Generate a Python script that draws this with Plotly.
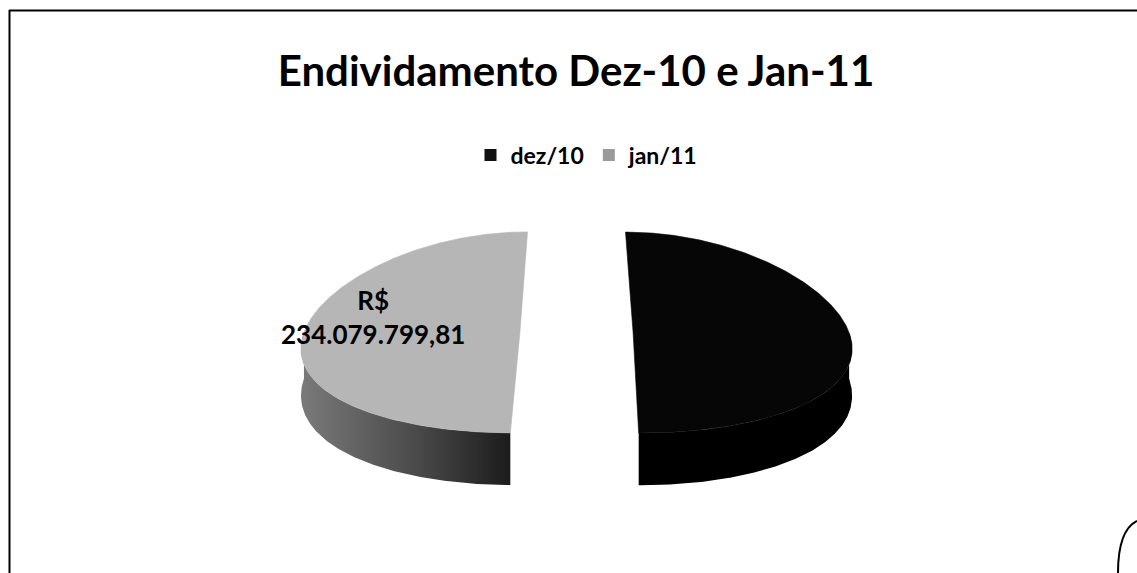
import numpy as np
import plotly.graph_objects as go

# ---- data -------------------------------------------------------------
categories = ["dez/10", "jan/11"]
values = [235300000.00, 234079799.81]
show_label = [False, True]
top_colors = ["#060606", "#b6b6b6"]
side_gradients = [
    [[0.0, "#000000"], [1.0, "#000000"]],
    [[0.0, "#7a7a7a"], [0.55, "#4a4a4a"], [1.0, "#1c1c1c"]],
]
legend_colors = ["#111111", "#9a9a9a"]
title_text = "Endividamento Dez-10 e Jan-11"
currency = "R$"

# ---- canvas / 3-D pie geometry (pixel space) --------------------------
W, H = 1137, 573
CX, CY = 576.5, 332.5      # centre of the disc's top face
RX, RY = 216.0, 100.5      # semi-axes of the top face
DEPTH = 46.0               # thickness of the disc
EXPLODE = 0.262            # slice explosion, as a fraction of radius
PERSP = 0.134              # horizontal perspective widening toward the front
FONT = "Lato"


def project(pu, pv, drop=0.0):
    """Map disc coordinates (unit radius) onto the page."""
    s = 1.0 + PERSP * pv
    return CX + RX * pu * s, CY + RY * pv + drop * s


def brl(v):
    txt = f"{v:,.2f}"
    return txt.replace(",", "#").replace(".", ",").replace("#", ".")


total = float(sum(values))
fracs = [v / total for v in values]
starts = np.concatenate([[0.0], np.cumsum(fracs)[:-1]]) * 2 * np.pi

fig = go.Figure()
annotations = []

for i, (name, frac) in enumerate(zip(categories, fracs)):
    a0 = starts[i]
    a1 = a0 + frac * 2 * np.pi
    am = 0.5 * (a0 + a1)
    ou, ov = EXPLODE * np.sin(am), -EXPLODE * np.cos(am)

    # visible outer wall: the front half of the rim
    v0, v1 = max(a0, np.pi / 2), min(a1, 3 * np.pi / 2)
    if v1 > v0:
        ang = np.linspace(v0, v1, 160)
        pu = ou + np.sin(ang)
        pv = ov - np.cos(ang)
        tx, ty = project(pu, pv)
        bx, by = project(pu, pv, DEPTH)
        xs = np.concatenate([tx, bx[::-1], tx[:1]])
        ys = np.concatenate([ty, by[::-1], ty[:1]])
        fig.add_trace(go.Scatter(
            x=xs, y=ys, mode="lines", fill="toself",
            line=dict(width=0, color="rgba(0,0,0,0)"),
            fillgradient=dict(type="horizontal", colorscale=side_gradients[i],
                              start=float(xs.min()), stop=float(xs.max())),
            hoverinfo="skip", showlegend=False))

    # top face
    ang = np.linspace(a0, a1, 360)
    pu = np.concatenate([[ou], ou + np.sin(ang), [ou]])
    pv = np.concatenate([[ov], ov - np.cos(ang), [ov]])
    tx, ty = project(pu, pv)
    fig.add_trace(go.Scatter(
        x=tx, y=ty, mode="lines", fill="toself", fillcolor=top_colors[i],
        line=dict(width=0.6, color=top_colors[i]),
        name=name, hoverinfo="name", showlegend=False))

    if show_label[i]:
        r = 0.68
        lx, ly = project(ou + r * np.sin(am), ov - r * np.cos(am))
        annotations.append(dict(
            x=lx, y=ly, xref="x", yref="y", yshift=15, showarrow=False,
            text=f"<b>{currency}<br>{brl(values[i])}</b>",
            font=dict(family=FONT, size=26, color="#000000"),
            align="center"))

# legend entries
for name, col in zip(categories, legend_colors):
    fig.add_trace(go.Scatter(
        x=[None], y=[None], mode="markers", name=name,
        marker=dict(symbol="square", size=12, color=col)))

fig.update_layout(
    width=W, height=H, autosize=False,
    margin=dict(l=0, r=0, t=0, b=0),
    paper_bgcolor="white", plot_bgcolor="white",
    xaxis=dict(range=[0, W], visible=False, fixedrange=True),
    yaxis=dict(range=[H, 0], visible=False, fixedrange=True),
    title=dict(text=f"<b>{title_text}</b>", x=576 / W, xanchor="center",
               y=1 - 71 / H, yanchor="middle",
               font=dict(family=FONT, size=42, color="#000000")),
    legend=dict(orientation="h", x=587 / W, xanchor="center",
                y=1 - 155 / H, yanchor="middle",
                font=dict(family=FONT, size=23, color="#000000",
                          weight="bold"),
                bgcolor="rgba(0,0,0,0)", itemwidth=30, tracegroupgap=0),
    annotations=annotations,
    shapes=[
        dict(type="line", xref="x", yref="y", x0=9, x1=W, y0=10.5, y1=10.5,
             line=dict(color="#000000", width=2)),
        dict(type="line", xref="x", yref="y", x0=9.5, x1=9.5, y0=10, y1=H,
             line=dict(color="#000000", width=2)),
        dict(type="path", xref="x", yref="y",
             path="M 1137 521 C 1125 527, 1118 545, 1118 573",
             line=dict(color="#000000", width=2)),
    ],
    showlegend=True,
)

fig.write_html("out.html")
